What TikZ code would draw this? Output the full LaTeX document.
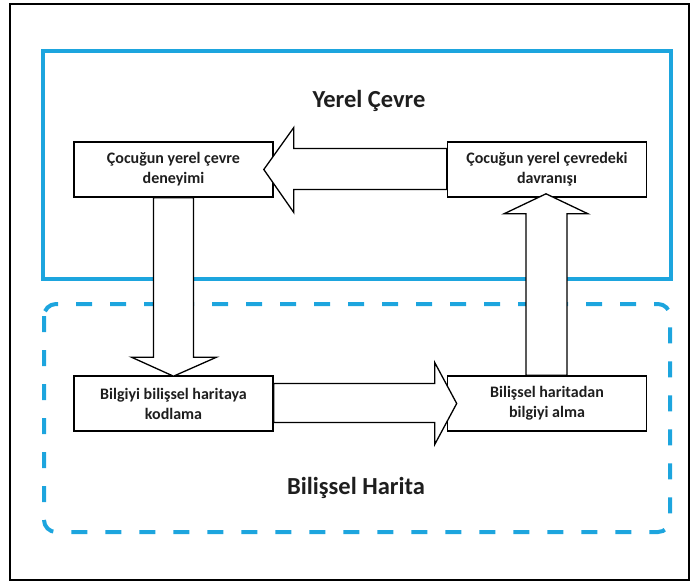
\documentclass[tikz,border=0pt]{standalone}
\usepackage{fontspec}
\setmainfont{Carlito}
\usetikzlibrary{calc}
\definecolor{skyline}{RGB}{29,165,222}
\definecolor{inktext}{RGB}{30,30,30}
\tikzset{
  x=1pt, y=-1pt,
  stagebox/.style={draw=black, line width=1.6pt, fill=white, minimum width=199pt,
    minimum height=55pt, align=center, font=\bfseries\fontsize{16}{20}\selectfont, text=inktext, inner sep=0pt},
  regiontitle/.style={font=\bfseries\fontsize{24.5}{28}\selectfont, text=inktext},
  fatarrow/.style={draw=black, line width=1.3pt, fill=white, line join=miter},
}
\begin{document}
\begin{tikzpicture}
\useasboundingbox (0,0) rectangle (696,584);
% outer frame
\draw[line width=2.6pt] (10,4) rectangle (689,580);
% environment region (solid) and cognitive map region (dashed)
\draw[skyline, line width=4pt] (43,51) rectangle (671,279);
\draw[skyline, line width=4pt, dash pattern=on 16pt off 18pt, rounded corners=12pt]
  (44,304) rectangle (670,532);
\node[regiontitle] (envtitle) at (369,101) {Yerel Çevre};
\node[regiontitle] (maptitle) at (356,488) {Bilişsel Harita};
% the four stages
\node[stagebox] (exp)  at (173.5,169.5) {Çocuğun yerel çevre\\deneyimi};
\node[stagebox] (beh)  at (547,169.5) {Çocuğun yerel çevredeki\\davranışı};
\node[stagebox] (enc)  at (173.5,403.5) {Bilgiyi bilişsel haritaya\\kodlama};
\node[stagebox] (ret)  at (547,403.5) {Bilişsel haritadan\\bilgiyi alma};
% behaviour -> experience
\draw[fatarrow] ($(exp.east)+(-10,0)$) -- ($(exp.east)+(20,-42)$) -- ($(exp.east)+(20,-21)$)
  -- ($(beh.west)+(0,-21)$) -- ($(beh.west)+(0,20)$) -- ($(exp.east)+(20,20)$)
  -- ($(exp.east)+(20,43)$) -- cycle;
% experience -> encoding
\draw[fatarrow] ($(enc.north)+(0,1)$) -- ($(enc.north)+(-42,-18)$) -- ($(enc.north)+(-20,-18)$)
  -- ($(exp.south)+(-20,0)$) -- ($(exp.south)+(20,0)$) -- ($(enc.north)+(20,-18)$)
  -- ($(enc.north)+(43,-18)$) -- cycle;
% encoding -> retrieval
\draw[fatarrow] ($(ret.west)+(10,0)$) -- ($(ret.west)+(-12,-41)$) -- ($(ret.west)+(-12,-20)$)
  -- ($(enc.east)+(0,-20)$) -- ($(enc.east)+(0,19)$) -- ($(ret.west)+(-12,19)$)
  -- ($(ret.west)+(-12,41)$) -- cycle;
% retrieval -> behaviour
\draw[fatarrow] ($(beh.south)+(-1,-4)$) -- ($(beh.south)+(41,16)$) -- ($(beh.south)+(20,16)$)
  -- ($(ret.north)+(20,0)$) -- ($(ret.north)+(-21,0)$) -- ($(beh.south)+(-21,16)$)
  -- ($(beh.south)+(-43,16)$) -- cycle;
\end{tikzpicture}
\end{document}
